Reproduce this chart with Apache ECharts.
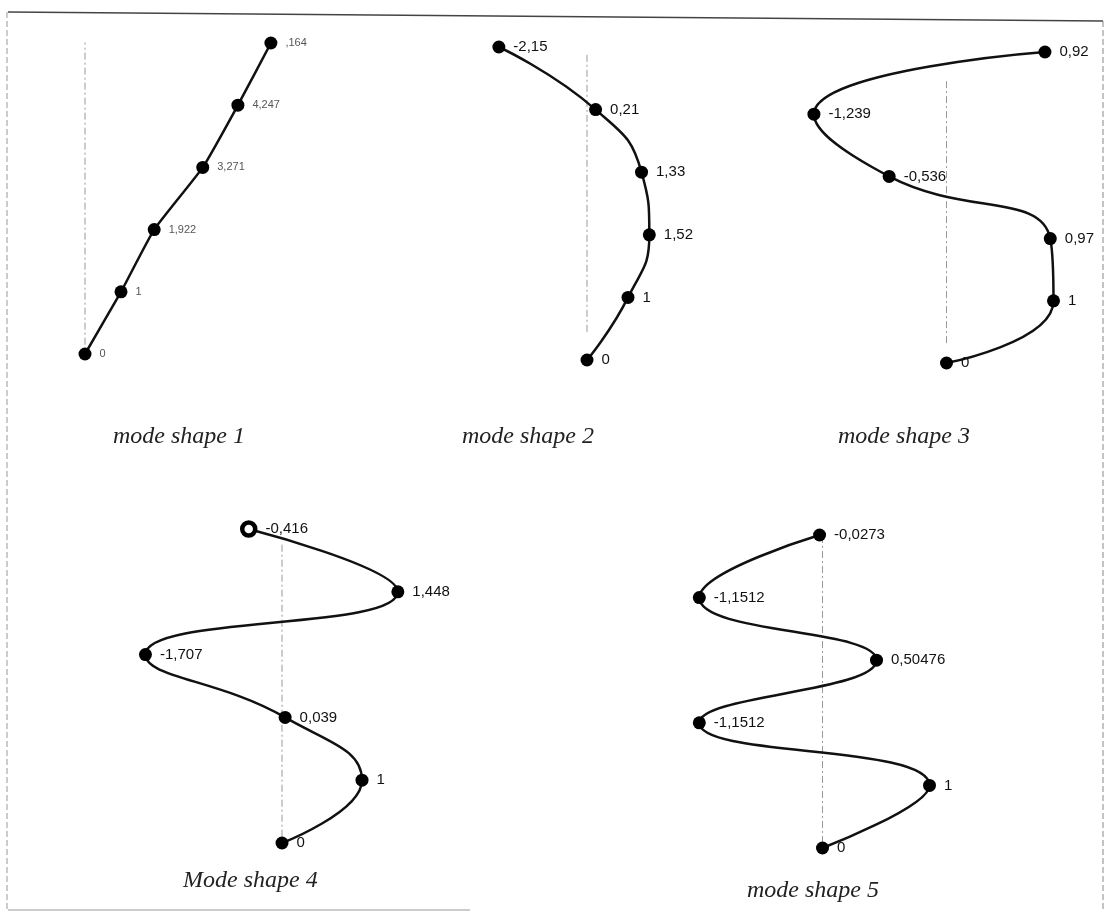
<!DOCTYPE html>
<html>
<head>
<meta charset="utf-8">
<title>mode shapes</title>
<script src="https://cdn.jsdelivr.net/npm/echarts@6.0.0/dist/echarts.min.js"></script>
<style>
    html, body { margin: 0; padding: 0; background: #fff; }
    #chart { width: 1107px; height: 912px; }
</style>
</head>
<body>
<div id="chart"></div>
<script>
// storey levels (0 = base)
const levels = [0, 1, 2, 3, 4, 5];

// modal displacements per storey
const mode1 = [0, 1, 1.922, 3.271, 4.247, 5.164];
const mode2 = [0, 1, 1.52, 1.33, 0.21, -2.15];
const mode3 = [0, 1, 0.97, -0.536, -1.239, 0.92];
const mode4 = [0, 1, 0.039, -1.707, 1.448, -0.416];
const mode5 = [0, 1, -1.1512, 0.50476, -1.1512, -0.0273];

// point labels as printed (comma decimals)
const labels1 = ['0', '1', '1,922', '3,271', '4,247', ',164'];
const labels2 = ['0', '1', '1,52', '1,33', '0,21', '-2,15'];
const labels3 = ['0', '1', '0,97', '-0,536', '-1,239', '0,92'];
const labels4 = ['0', '1', '0,039', '-1,707', '1,448', '-0,416'];
const labels5 = ['0', '1', '-1,1512', '0,50476', '-1,1512', '-0,0273'];

const titles = ['mode shape 1', 'mode shape 2', 'mode shape 3', 'Mode shape 4', 'mode shape 5'];

// vertical reference line (x = 0) extent in storey units
const refBottom = [0.15, 0.45, 0.32, 0.1, 0.08];
const refTop = [5.05, 4.9, 4.55, 4.75, 4.92];

const modes = [mode1, mode2, mode3, mode4, mode5];
const modeLabels = [labels1, labels2, labels3, labels4, labels5];

// panel layout: grid box + x range of each small plot
const panels = [
    { left: 49, top: 43, width: 252, height: 311, min: -1, max: 6, font: 11, color: '#555', smooth: 0.15 },
    { left: 464, top: 47, width: 205, height: 313, min: -3, max: 2, font: 15, color: '#111', smooth: 0.5 },
    { left: 786, top: 52, width: 321, height: 311, min: -1.5, max: 1.5, font: 15, color: '#111', smooth: 0.5 },
    { left: 122, top: 529, width: 320, height: 314, min: -2, max: 2, font: 15, color: '#111', smooth: 0.5 },
    { left: 662, top: 535, width: 321, height: 313, min: -1.5, max: 1.5, font: 15, color: '#111', smooth: 0.5 }
];

const titlePos = [
    { left: 113, top: 425 },
    { left: 462, top: 425 },
    { left: 838, top: 425 },
    { left: 183, top: 869 },
    { left: 747, top: 879 }
];

const buildSeries = function () {
    let series = [];
    modes.forEach((values, i) => {
        // dashed zero line
        series.push({
            type: 'line',
            xAxisIndex: i,
            yAxisIndex: i,
            symbol: 'none',
            silent: true,
            z: 1,
            lineStyle: { color: '#999', width: 1, type: [7, 3, 2, 3] },
            data: [[0, refBottom[i]], [0, refTop[i]]]
        });

        let data = levels.map((lv, k) => {
            let item = { value: [values[k], lv] };
            // the top point of mode 4 prints as a ring
            if (i === 3 && k === 5) {
                item.itemStyle = { color: '#fff', borderColor: '#000', borderWidth: 4.5 };
            }
            return item;
        });

        series.push({
            type: 'line',
            xAxisIndex: i,
            yAxisIndex: i,
            smooth: panels[i].smooth,
            clip: false,
            z: 3,
            symbol: 'circle',
            symbolSize: 13,
            itemStyle: { color: '#000' },
            lineStyle: { color: '#111', width: 2.5 },
            label: {
                show: true,
                position: 'right',
                distance: 8,
                fontFamily: 'Liberation Sans, Arial, sans-serif',
                fontSize: panels[i].font,
                color: panels[i].color,
                formatter: p => modeLabels[i][p.dataIndex]
            },
            data: data
        });
    });
    return series;
};

const initChart = function () {
    const chart = echarts.init(document.getElementById('chart'), null, { renderer: 'canvas' });

    chart.setOption({
        backgroundColor: '#fff',
        animation: false,

        title: titles.map((t, i) => ({
            text: t,
            left: titlePos[i].left,
            top: titlePos[i].top,
            padding: 0,
            textStyle: {
                fontFamily: 'Liberation Serif, Times New Roman, serif',
                fontStyle: 'italic',
                fontWeight: 'normal',
                fontSize: 24,
                color: '#222'
            }
        })),

        grid: panels.map(p => ({
            left: p.left,
            top: p.top,
            width: p.width,
            height: p.height
        })),

        xAxis: panels.map((p, i) => ({
            type: 'value',
            gridIndex: i,
            min: p.min,
            max: p.max,
            show: false
        })),

        yAxis: panels.map((p, i) => ({
            type: 'value',
            gridIndex: i,
            min: 0,
            max: 5,
            show: false
        })),

        // scanned page frame
        graphic: [
            { type: 'line', shape: { x1: 8, y1: 12, x2: 1103, y2: 21 }, style: { stroke: '#444', lineWidth: 1.5 } },
            { type: 'line', shape: { x1: 7, y1: 12, x2: 7, y2: 912 }, style: { stroke: '#999', lineWidth: 1, lineDash: [6, 3] } },
            { type: 'line', shape: { x1: 1103, y1: 21, x2: 1103, y2: 912 }, style: { stroke: '#888', lineWidth: 1, lineDash: [6, 3] } },
            { type: 'line', shape: { x1: 8, y1: 910, x2: 470, y2: 910 }, style: { stroke: '#999', lineWidth: 1 } }
        ],

        series: buildSeries()
    });
};

initChart();
</script>
</body>
</html>
